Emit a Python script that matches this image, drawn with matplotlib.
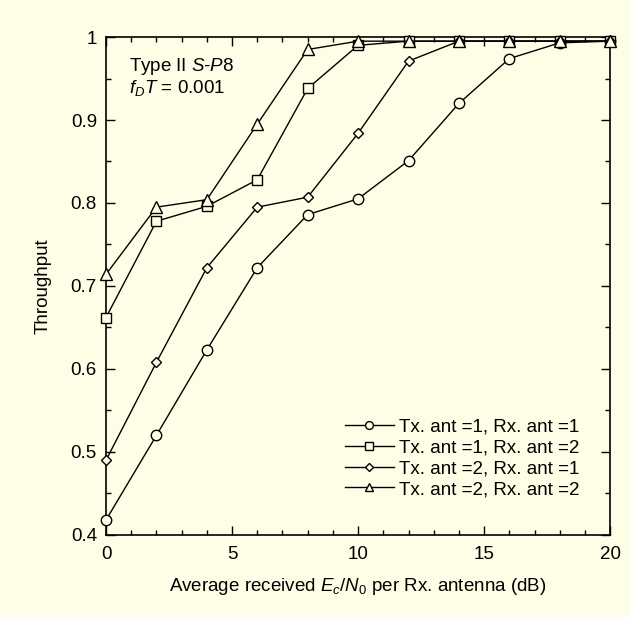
import matplotlib.pyplot as plt
from matplotlib.ticker import MultipleLocator

plt.rcParams['font.family'] = ['Liberation Sans', 'DejaVu Sans']
plt.rcParams['mathtext.fontset'] = 'custom'
plt.rcParams['mathtext.rm'] = 'Liberation Sans'
plt.rcParams['mathtext.it'] = 'Liberation Sans:italic'

bg = '#fefee6'
fs = 13.5

# Ec/N0 points (dB)
snr = [0, 2, 4, 6, 8, 10, 12, 14, 16, 18, 20]

tx1_rx1 = [0.418, 0.520, 0.623, 0.722, 0.786, 0.805, 0.851, 0.920, 0.974, 0.993, 0.995]
tx1_rx2 = [0.662, 0.778, 0.796, 0.828, 0.938, 0.990, 0.995, 0.995, 0.995, 0.995, 0.995]
tx2_rx1 = [0.490, 0.608, 0.722, 0.795, 0.807, 0.884, 0.971, 0.995, 0.995, 0.995, 0.995]
tx2_rx2 = [0.714, 0.795, 0.804, 0.895, 0.985, 0.995, 0.995, 0.995, 0.995, 0.995, 0.995]

labels = ['Tx. ant =1, Rx. ant =1', 'Tx. ant =1, Rx. ant =2',
          'Tx. ant =2, Rx. ant =1', 'Tx. ant =2, Rx. ant =2']
markers = ['o', 's', 'D', '^']
sizes = [7.5, 7.5, 5.5, 8]

fig = plt.figure(figsize=(6.31, 6.17), dpi=100, facecolor=bg)
ax = fig.add_axes([0.168, 0.133, 0.799, 0.807])
ax.set_facecolor(bg)

for ys, lab, m, s in zip([tx1_rx1, tx1_rx2, tx2_rx1, tx2_rx2], labels, markers, sizes):
    ax.plot(snr, ys, color='black', lw=1, marker=m, ms=s,
            mfc=bg, mec='black', mew=1, label=lab, clip_on=False, zorder=3)

for sp in ax.spines.values():
    sp.set_linewidth(1.2)

ax.set_xlim(0, 20)
ax.set_ylim(0.4, 1.0)
ax.xaxis.set_major_locator(MultipleLocator(5))
ax.xaxis.set_minor_locator(MultipleLocator(1))
ax.yaxis.set_minor_locator(MultipleLocator(0.05))
ax.set_yticks([0.4, 0.5, 0.6, 0.7, 0.8, 0.9, 1.0])
ax.set_yticklabels(['0.4', '0.5', '0.6', '0.7', '0.8', '0.9', '1'])
ax.tick_params(which='both', direction='in', top=True, right=True,
               labelsize=fs, width=1)
ax.tick_params(which='major', length=6.5)
ax.tick_params(which='minor', length=3.5)
ax.tick_params(axis='x', which='major', pad=8)
ax.tick_params(axis='y', which='major', pad=6.5)

ax.set_xlabel(r'Average received $E_c$/$N_0$ per Rx. antenna (dB)', fontsize=fs, labelpad=9)
ax.set_ylabel('Throughput', fontsize=fs, labelpad=14)

ax.text(0.91, 0.964, r'Type II $S$-$P$8', fontsize=fs, va='center')
ax.text(0.91, 0.9386, r'$f_DT$ = 0.001', fontsize=fs, va='center')

leg = ax.legend(loc='lower right', bbox_to_anchor=(0.955, 0.059), frameon=False,
                fontsize=fs, handlelength=2.6, labelspacing=0.2,
                handletextpad=0.3, markerscale=0.75, borderaxespad=0)

fig.savefig('out.png', dpi=100, facecolor=bg)
